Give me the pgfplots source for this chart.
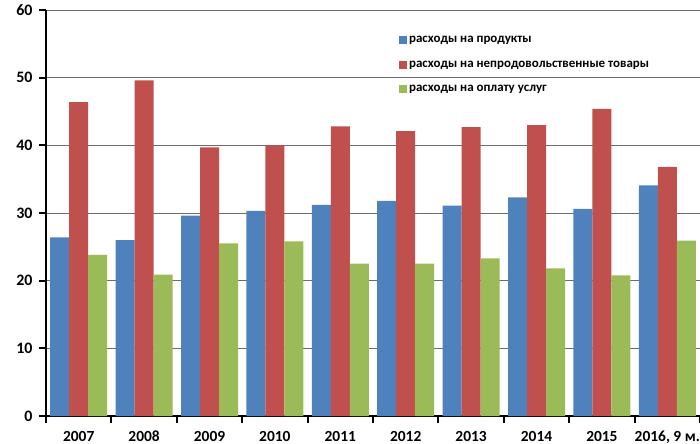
\documentclass[border=0pt]{standalone}
\usepackage{pgfplots}
\pgfplotsset{compat=1.18}
\usepackage{fontspec}
\setmainfont{Carlito}
\definecolor{cblue}{HTML}{4F81BD}
\definecolor{cred}{HTML}{C0504D}
\definecolor{cgreen}{HTML}{9BBB59}
\begin{document}
\begin{tikzpicture}
\begin{axis}[
  name=ax,
  scale only axis,
  width=654bp, height=406bp,
  ymin=0, ymax=60, ytick={0,10,...,60},
  xmin=-0.5, xmax=9.5,
  xtick={0,...,9},
  xticklabels={2007,2008,2009,2010,2011,2012,2013,2014,2015,{2016, 9 м.}},
  minor xtick={-0.5,0.5,...,9.5},
  axis x line*=bottom, axis y line*=left,
  axis line style={line width=2.2bp, black, -},
  ymajorgrids, grid style={gray!85!black, line width=0.9bp},
  major x tick style={draw=none},
  minor x tick style={black, line width=2bp},
  minor tick length=7bp,
  ytick style={black, line width=2bp},
  major tick length=7bp,
  tick align=outside,
  /pgf/number format/assume math mode=true,
  yticklabel style={font=\fontsize{16}{18}\selectfont\bfseries, xshift=-3bp},
  xticklabel style={font=\fontsize{15.5}{18}\selectfont\bfseries, anchor=north, yshift=-3bp, text height=11.5bp, text depth=3bp},
  ybar=0pt, bar width=19bp,
  legend style={draw=none, fill=none, at={(0.535,0.945)}, anchor=north west,
    font=\fontsize{13}{15}\selectfont\bfseries, row sep=12.5bp,
    /tikz/every even column/.append style={column sep=2bp}},
  legend cell align=left,
  legend image code/.code={\fill[#1] (0bp,-4bp) rectangle (8bp,4bp);},
]
\addplot[fill=cblue, draw=none] coordinates {(0,26.4) (1,26.0) (2,29.6) (3,30.3) (4,31.2) (5,31.8) (6,31.1) (7,32.3) (8,30.6) (9,34.1)};
\addplot[fill=cred, draw=none] coordinates {(0,46.4) (1,49.6) (2,39.7) (3,40.0) (4,42.8) (5,42.1) (6,42.7) (7,43.0) (8,45.4) (9,36.8)};
\addplot[fill=cgreen, draw=none] coordinates {(0,23.8) (1,20.9) (2,25.5) (3,25.8) (4,22.5) (5,22.5) (6,23.3) (7,21.8) (8,20.8) (9,25.9)};
\legend{расходы на продукты, расходы на непродовольственные товары, расходы на оплату услуг}
\end{axis}
\pgfresetboundingbox
\path[use as bounding box] ([xshift=-46bp,yshift=-28bp]ax.south west) rectangle ([yshift=10bp]ax.north east);
\end{tikzpicture}
\end{document}
